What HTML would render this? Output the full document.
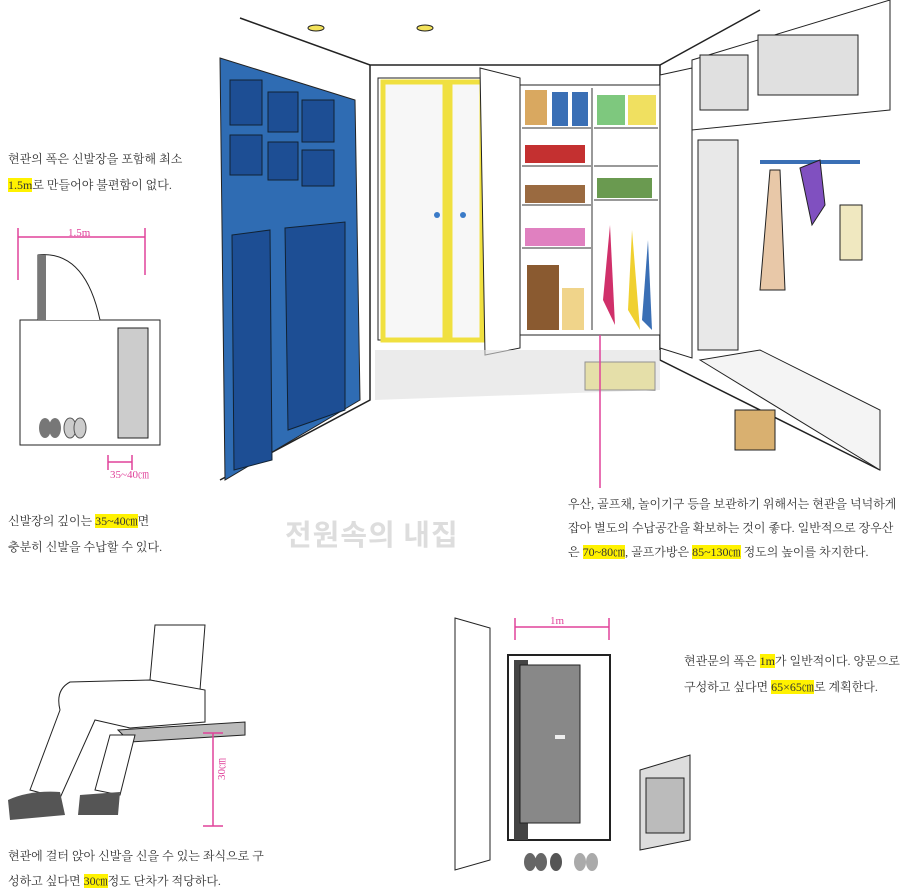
<!DOCTYPE html>
<html><head><meta charset="utf-8"><style>
body{margin:0;width:900px;height:894px;background:#fff;position:relative;overflow:hidden;font-family:"Liberation Serif","Noto Serif CJK SC","Noto Sans CJK KR",serif;color:#333}
.t{position:absolute;font-size:12px;line-height:26px;white-space:nowrap}
.h{background:#fff200}
.wm{position:absolute;left:285px;top:512px;font-family:"Noto Sans CJK KR",sans-serif;font-weight:bold;font-size:29px;color:#ddd;letter-spacing:1px}
svg{position:absolute;left:0;top:0}
</style></head><body>
<svg width="900" height="894" viewBox="0 0 900 894">
<g stroke="#222" stroke-width="1.5" fill="none">
<path d="M240 18 L370 65 L660 65 L760 10"/>
<path d="M370 65 L370 400 L220 480"/>
<path d="M660 65 L660 360 L880 470"/>
</g>
<ellipse cx="316" cy="28" rx="8" ry="3" fill="#f3e25a" stroke="#222"/>
<ellipse cx="425" cy="28" rx="8" ry="3" fill="#f3e25a" stroke="#222"/>
<path d="M220 58 L355 100 L360 400 L225 480 Z" fill="#2f6cb3" stroke="#222"/>
<g fill="#1d4e94" stroke="#123">
<rect x="230" y="80" width="32" height="45"/><rect x="268" y="92" width="30" height="40"/><rect x="302" y="100" width="32" height="42"/>
<rect x="230" y="135" width="32" height="40"/><rect x="268" y="142" width="30" height="38"/><rect x="302" y="150" width="32" height="36"/>
<path d="M232 235 L270 230 L272 460 L234 470Z"/><path d="M285 228 L345 222 L345 410 L288 430Z"/>
</g>
<rect x="378" y="78" width="104" height="262" fill="#fff" stroke="#222"/>
<rect x="383" y="82" width="62" height="258" fill="#f7f7f7" stroke="#f0e040" stroke-width="5"/>
<rect x="450" y="82" width="32" height="258" fill="#f7f7f7" stroke="#f0e040" stroke-width="5"/>
<circle cx="437" cy="215" r="3" fill="#3a7bc8"/><circle cx="463" cy="215" r="3" fill="#3a7bc8"/>
<rect x="520" y="85" width="140" height="250" fill="#fff" stroke="#222"/>
<path d="M480 68 L520 78 L520 348 L485 355Z" fill="#fff" stroke="#222"/>
<path d="M660 75 L692 68 L692 358 L660 348Z" fill="#fff" stroke="#222"/>
<g stroke="#999" stroke-width="2"><line x1="522" y1="128" x2="592" y2="128"/><line x1="522" y1="166" x2="592" y2="166"/><line x1="522" y1="205" x2="592" y2="205"/><line x1="522" y1="248" x2="592" y2="248"/><line x1="594" y1="128" x2="658" y2="128"/><line x1="594" y1="166" x2="658" y2="166"/><line x1="594" y1="200" x2="658" y2="200"/><line x1="592" y1="88" x2="592" y2="330"/></g>
<rect x="525" y="90" width="22" height="35" fill="#d9a860"/><rect x="552" y="92" width="16" height="34" fill="#3a6fb5"/><rect x="572" y="92" width="16" height="34" fill="#3a6fb5"/>
<rect x="597" y="95" width="28" height="30" fill="#7ec87e"/><rect x="628" y="95" width="28" height="30" fill="#f0e060"/>
<rect x="525" y="145" width="60" height="18" fill="#c43030"/><rect x="525" y="185" width="60" height="18" fill="#9a6a40"/>
<rect x="525" y="228" width="60" height="18" fill="#e080c0"/><rect x="597" y="178" width="55" height="20" fill="#6a9a50"/>
<rect x="527" y="265" width="32" height="65" fill="#8a5a30"/><rect x="562" y="288" width="22" height="42" fill="#f0d48a"/>
<path d="M610 225 L603 300 L615 325Z" fill="#d0306a"/><path d="M632 230 L628 310 L640 330Z" fill="#f0d030"/><path d="M648 240 L642 320 L652 330Z" fill="#3a6fb5"/>
<rect x="585" y="362" width="70" height="28" fill="#f0e05a" stroke="#222"/>
<path d="M375 350 L660 350 L660 390 L375 400Z" fill="#ddd" opacity=".6"/>
<path d="M692 60 L890 0 L890 110 L692 130Z" fill="#fff" stroke="#222"/>
<rect x="700" y="55" width="48" height="55" fill="#e0e0e0" stroke="#222"/><rect x="758" y="35" width="100" height="60" fill="#e0e0e0" stroke="#222"/>
<rect x="698" y="140" width="40" height="210" fill="#e8e8e8" stroke="#222"/>
<rect x="760" y="160" width="100" height="4" fill="#3a6fb5"/>
<path d="M770 170 L760 290 L785 290 L780 170Z" fill="#e8c8a8" stroke="#222"/>
<path d="M800 168 L820 160 L825 205 L812 225Z" fill="#8050c0" stroke="#222"/>
<rect x="840" y="205" width="22" height="55" fill="#f0e8c0" stroke="#222"/>
<path d="M700 360 L880 470 L880 410 L760 350Z" fill="#f4f4f4" stroke="#222"/>
<rect x="735" y="410" width="40" height="40" fill="#d9b070" stroke="#222"/>
<line x1="600" y1="335" x2="600" y2="488" stroke="#e0429a" stroke-width="1.5"/>
<g stroke="#e0429a" stroke-width="1.5"><line x1="18" y1="237" x2="145" y2="237"/><line x1="18" y1="228" x2="18" y2="280"/><line x1="145" y1="228" x2="145" y2="275"/>
<line x1="108" y1="462" x2="132" y2="462"/><line x1="108" y1="455" x2="108" y2="470"/><line x1="132" y1="455" x2="132" y2="470"/></g>
<rect x="20" y="320" width="140" height="125" fill="#fff" stroke="#222"/>
<path d="M38 320 L38 255 Q85 250 100 320" fill="#fff" stroke="#222"/><rect x="38" y="255" width="8" height="65" fill="#777"/>
<rect x="118" y="328" width="30" height="110" fill="#ccc" stroke="#222"/>
<ellipse cx="45" cy="428" rx="6" ry="10" fill="#777"/><ellipse cx="55" cy="428" rx="6" ry="10" fill="#777"/>
<ellipse cx="70" cy="428" rx="6" ry="10" fill="#ccc" stroke="#555"/><ellipse cx="80" cy="428" rx="6" ry="10" fill="#ccc" stroke="#555"/>
<!-- sitting person -->
<path d="M118 730 L245 722 L245 735 L130 742Z" fill="#bbb" stroke="#222"/>
<path d="M155 625 L150 680 L200 690 L205 625Z" fill="#fff" stroke="#222"/>
<path d="M150 680 L70 682 Q55 690 60 710 L30 790 L60 798 L95 720 L130 728 L205 722 L205 690Z" fill="#fff" stroke="#222"/>
<path d="M110 735 L95 790 L120 795 L135 735Z" fill="#fff" stroke="#222"/>
<path d="M8 800 Q30 790 60 792 L65 815 L10 820Z" fill="#555"/><path d="M80 795 L120 792 L118 815 L78 815Z" fill="#555"/>
<g stroke="#e0429a" stroke-width="1.5"><line x1="213" y1="733" x2="213" y2="826"/><line x1="203" y1="733" x2="223" y2="733"/><line x1="203" y1="826" x2="223" y2="826"/></g>
<text x="225" y="780" font-size="11" fill="#e0429a" transform="rotate(-90 225 780)">30㎝</text>
<path d="M455 618 L490 628 L490 860 L455 870Z" fill="#fff" stroke="#222"/>
<rect x="508" y="655" width="102" height="185" fill="#fff" stroke="#222" stroke-width="2"/>
<rect x="514" y="660" width="14" height="180" fill="#444"/>
<rect x="520" y="665" width="60" height="158" fill="#888" stroke="#222"/>
<rect x="555" y="735" width="10" height="4" fill="#eee"/>
<path d="M640 770 L690 755 L690 840 L640 850Z" fill="#ddd" stroke="#222"/><rect x="646" y="778" width="38" height="55" fill="#bbb" stroke="#222"/>
<g stroke="#e0429a" stroke-width="1.5"><line x1="515" y1="627" x2="609" y2="627"/><line x1="515" y1="618" x2="515" y2="640"/><line x1="609" y1="618" x2="609" y2="640"/></g>
<ellipse cx="530" cy="862" rx="6" ry="9" fill="#666"/><ellipse cx="541" cy="862" rx="6" ry="9" fill="#666"/>
<ellipse cx="556" cy="862" rx="6" ry="9" fill="#555"/><ellipse cx="580" cy="862" rx="6" ry="9" fill="#aaa"/><ellipse cx="592" cy="862" rx="6" ry="9" fill="#aaa"/>
<text x="68" y="236" font-size="11" fill="#e0429a">1.5m</text>
<text x="110" y="478" font-size="11" fill="#e0429a">35~40㎝</text>
<text x="550" y="624" font-size="11" fill="#e0429a">1m</text>
</svg>
<div class="t" style="left:8px;top:146px">현관의 폭은 신발장을 포함해 최소<br><span class="h">1.5m</span>로 만들어야 불편함이 없다.</div>
<div class="t" style="left:8px;top:508px">신발장의 깊이는 <span class="h">35~40㎝</span>면<br>충분히 신발을 수납할 수 있다.</div>
<div class="wm">전원속의 내집</div>
<div class="t" style="left:568px;top:492px;line-height:24px">우산, 골프채, 놀이기구 등을 보관하기 위해서는 현관을 넉넉하게<br>잡아 별도의 수납공간을 확보하는 것이 좋다. 일반적으로 장우산<br>은 <span class="h">70~80㎝</span>, 골프가방은 <span class="h">85~130㎝</span> 정도의 높이를 차지한다.</div>
<div class="t" style="left:8px;top:844px;line-height:25px">현관에 걸터 앉아 신발을 신을 수 있는 좌식으로 구<br>성하고 싶다면 <span class="h">30㎝</span>정도 단차가 적당하다.</div>
<div class="t" style="left:684px;top:648px">현관문의 폭은 <span class="h">1m</span>가 일반적이다. 양문으로<br>구성하고 싶다면 <span class="h">65×65㎝</span>로 계획한다.</div>
</body></html>
